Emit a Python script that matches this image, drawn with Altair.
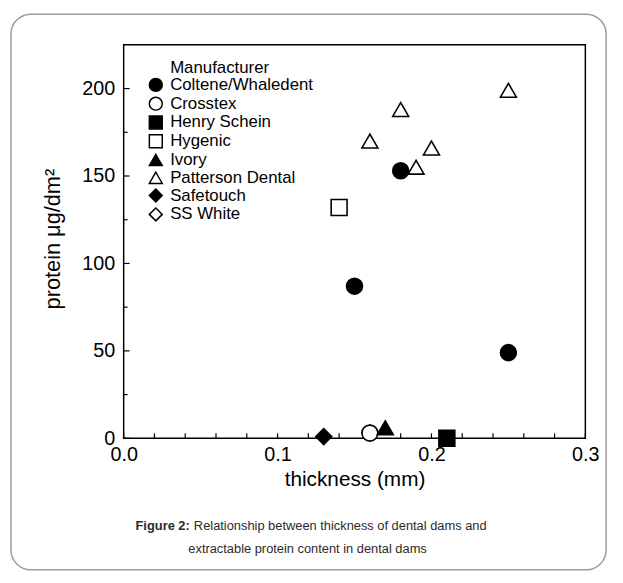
import altair as alt
import pandas as pd

FONT = "Liberation Sans"

manufacturers = ["Coltene/Whaledent", "Crosstex", "Henry Schein", "Hygenic",
                 "Ivory", "Patterson Dental", "Safetouch", "SS White"]
shapes = ["circle", "circle", "square", "square",
          "triangle-up", "triangle-up", "diamond", "diamond"]
fills = ["black", "white", "black", "white", "black", "white", "black", "white"]
strokes = ["black"] * 8

point_maker = ["Patterson Dental", "Patterson Dental", "Patterson Dental",
               "Patterson Dental", "Patterson Dental",
               "Coltene/Whaledent", "Coltene/Whaledent", "Coltene/Whaledent",
               "Hygenic", "Safetouch", "SS White", "Crosstex", "Ivory", "Henry Schein"]
thickness = [0.16, 0.18, 0.19, 0.20, 0.25,
             0.15, 0.18, 0.25,
             0.14, 0.13, 0.16, 0.16, 0.17, 0.21]
protein = [170, 188, 155, 166, 199,
           87, 153, 49,
           132, 1, 3, 3, 6, 0]

x_labels = [0.0, 0.1, 0.2, 0.3]
x_ticks = [0.0, 0.02, 0.04, 0.06, 0.08, 0.1, 0.12, 0.14, 0.16, 0.18, 0.2,
           0.22, 0.24, 0.26, 0.28, 0.3]
y_labels = [0, 50, 100, 150, 200]
y_minor = [25, 75, 125, 175]

W, H = 467, 398

df = pd.DataFrame({"maker": point_maker, "thickness": thickness, "protein": protein})
dummy = pd.DataFrame({"a": [0]})

xscale = alt.Scale(domain=[0, 0.3], nice=False, zero=False)
yscale = alt.Scale(domain=[0, 225], nice=False, zero=False)

xaxis = alt.Axis(values=x_labels, format=".1f", domain=False, ticks=False, grid=False,
                 labelFontSize=20, labelPadding=6, labelColor="black", labelFont=FONT,
                 labelFlush=False,
                 title="thickness (mm)", titleFontSize=21, titleFontWeight="normal",
                 titleFont=FONT, titleColor="black", titleBaseline="middle", titleY=42)
yaxis = alt.Axis(values=y_labels, domain=False, ticks=False, grid=False,
                 labelFontSize=20, labelPadding=9, labelColor="black", labelFont=FONT,
                 title="protein μg/dm²", titleFontSize=22, titleFontWeight="normal",
                 titleFont=FONT, titleColor="black", titleX=-72, titleY=H / 2 - 3,
                 titleBaseline="middle", titleAlign="center")


def X():
    return alt.X("thickness:Q", scale=xscale, axis=xaxis)


def Y():
    return alt.Y("protein:Q", scale=yscale, axis=yaxis)


frame = alt.Chart(dummy).mark_rect(
    fill="white", fillOpacity=0, stroke="#9a9a9a", strokeWidth=1.5, cornerRadius=20
).encode(x=alt.value(-114), x2=alt.value(488), y=alt.value(-31), y2=alt.value(531))

xt = alt.Chart(pd.DataFrame({"thickness": x_ticks})).mark_rule(
    color="black", strokeWidth=1.2
).encode(x=X(), y=alt.value(H), y2=alt.value(H - 5))

yt_major = alt.Chart(pd.DataFrame({"protein": y_labels})).mark_rule(
    color="black", strokeWidth=1.2
).encode(y=Y(), x=alt.value(0), x2=alt.value(6))

yt_minor = alt.Chart(pd.DataFrame({"protein": y_minor})).mark_rule(
    color="black", strokeWidth=1.2
).encode(y=Y(), x=alt.value(0), x2=alt.value(4))

legend = alt.Legend(
    title=None, orient="none", legendX=24, legendY=32,
    labelFontSize=17, labelFont=FONT, labelColor="black", labelOffset=6,
    symbolSize=170, symbolStrokeWidth=1.5,
    rowPadding=-2.2, padding=0
)

points = alt.Chart(df).mark_point(
    filled=True, size=260, strokeWidth=1.6, opacity=1
).encode(
    x=X(), y=Y(),
    shape=alt.Shape("maker:N", scale=alt.Scale(domain=manufacturers, range=shapes),
                    sort=manufacturers, legend=legend),
    fill=alt.Fill("maker:N", scale=alt.Scale(domain=manufacturers, range=fills),
                  sort=manufacturers, legend=legend),
    stroke=alt.Stroke("maker:N", scale=alt.Scale(domain=manufacturers, range=strokes),
                      sort=manufacturers, legend=legend),
)

legend_title = alt.Chart(dummy).mark_text(
    align="left", baseline="middle", fontSize=17, font=FONT, color="black"
).encode(x=alt.value(47), y=alt.value(23), text=alt.value("Manufacturer"))

cap_style = dict(baseline="middle", fontSize=13, font=FONT, color="#2b2b2b")
cap1a = alt.Chart(dummy).mark_text(align="left", fontWeight="bold", **cap_style).encode(
    x=alt.value(12), y=alt.value(487), text=alt.value("Figure 2:"))
cap1b = alt.Chart(dummy).mark_text(align="left", **cap_style).encode(
    x=alt.value(71), y=alt.value(487),
    text=alt.value("Relationship between thickness of dental dams and"))
cap2 = alt.Chart(dummy).mark_text(align="center", **cap_style).encode(
    x=alt.value(186), y=alt.value(510),
    text=alt.value("extractable protein content in dental dams"))

chart = alt.layer(frame, xt, yt_major, yt_minor, points, legend_title,
                  cap1a, cap1b, cap2).properties(
    width=W, height=H,
    background="white",
    autosize=alt.AutoSizeParams(type="none"),
    padding={"left": 117, "top": 34, "right": 30, "bottom": 136},
).configure_view(stroke="black", strokeWidth=1.5)

chart.save("out.html", embed_options={"renderer": "svg", "actions": False})
